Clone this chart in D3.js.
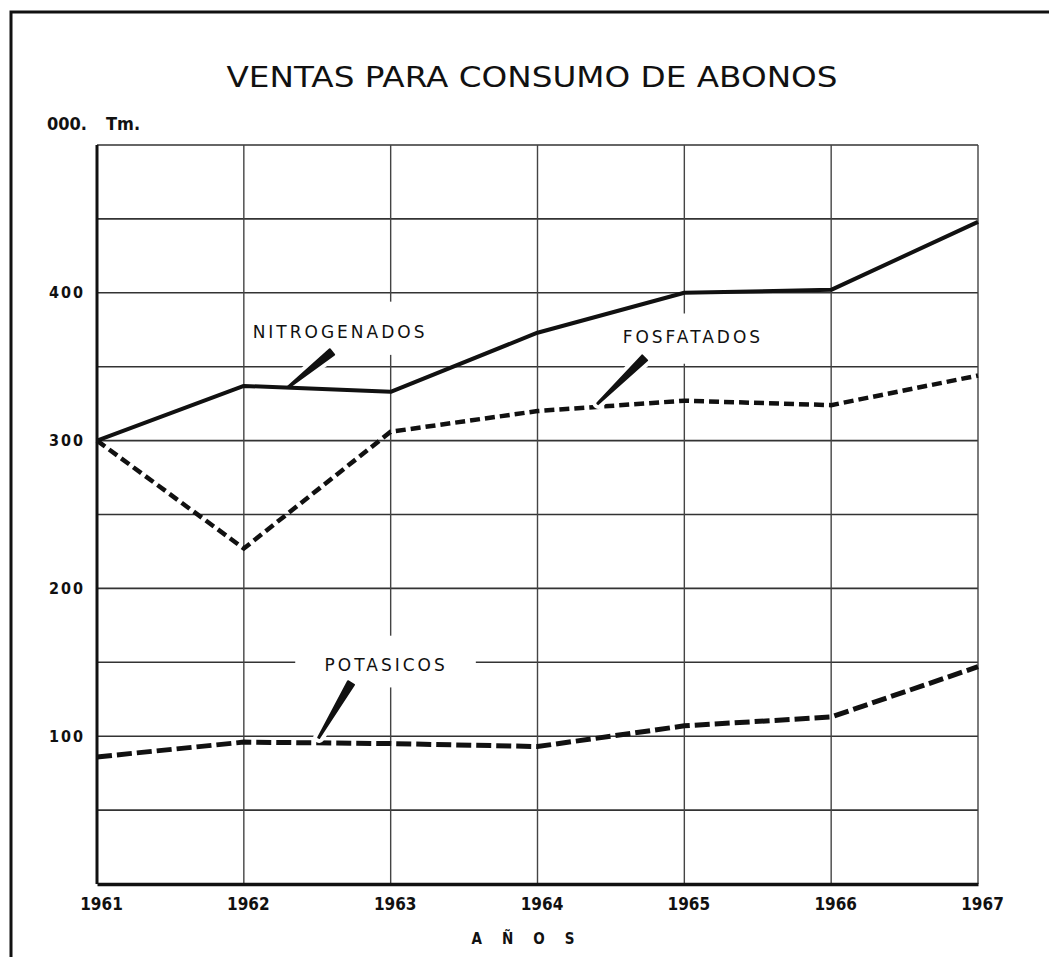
<!DOCTYPE html>
<html>
<head>
<meta charset="utf-8">
<script src="https://cdn.jsdelivr.net/npm/d3@7"></script>
<style>
  body { margin: 0; background: #fff; }
  svg { display: block; }
</style>
</head>
<body>
<div id="chart"></div>
<script>
// data (thousand tonnes)
let years = [1961, 1962, 1963, 1964, 1965, 1966, 1967];
let nitrogenados = [300, 337, 333, 373, 400, 402, 448];
let fosfatados = [300, 227, 306, 320, 327, 324, 344];
let potasicos = [86, 96, 95, 93, 107, 113, 147];
let yTicks = [100, 200, 300, 400];
let yGrid = [50, 100, 150, 200, 250, 300, 350, 400, 450, 500];

function init() {
    let width = 1049;
    let height = 957;

    let svg = d3.select("#chart")
        .append("svg")
        .attr("width", width)
        .attr("height", height);

    let xScale = d3.scaleLinear().domain([1961, 1967]).range([97, 978]);
    let yScale = d3.scaleLinear().domain([0, 500]).range([884, 145]);

    // page frame (top and left edge only)
    svg.append("path")
        .attr("d", "M11,957 L11,12 L1049,12")
        .attr("fill", "none")
        .attr("stroke", "#111")
        .attr("stroke-width", 3);

    // title
    svg.append("text")
        .attr("x", 532)
        .attr("y", 87)
        .attr("text-anchor", "middle")
        .attr("textLength", 611)
        .attr("lengthAdjust", "spacingAndGlyphs")
        .style("font-family", "'DejaVu Sans', sans-serif")
        .style("font-size", "28px")
        .style("fill", "#111")
        .text("VENTAS PARA CONSUMO DE ABONOS");

    // unit label
    let unit = svg.append("text")
        .attr("y", 130)
        .style("font-family", "'DejaVu Sans Condensed', sans-serif")
        .style("font-weight", "bold")
        .style("font-size", "18px")
        .style("fill", "#111");
    unit.append("tspan").attr("x", 47).text("000.");
    unit.append("tspan").attr("x", 106).text("Tm.");

    // grid
    let grid = svg.append("g");
    grid.selectAll(".hgrid")
        .data(yGrid)
        .enter().append("line")
        .attr("x1", xScale(1961))
        .attr("x2", xScale(1967))
        .attr("y1", d => yScale(d))
        .attr("y2", d => yScale(d))
        .attr("stroke", "#333")
        .attr("stroke-width", 1.6);
    grid.selectAll(".vgrid")
        .data(years.slice(1))
        .enter().append("line")
        .attr("x1", d => xScale(d))
        .attr("x2", d => xScale(d))
        .attr("y1", yScale(500))
        .attr("y2", yScale(0))
        .attr("stroke", "#444")
        .attr("stroke-width", 1.4);

    // axes
    let yAxis = svg.append("g")
        .attr("transform", "translate(" + xScale(1961) + ",0)")
        .call(d3.axisLeft(yScale).tickValues(yTicks).tickSize(0).tickPadding(12));
    yAxis.select(".domain")
        .attr("d", "M0," + yScale(500) + "V" + yScale(0))
        .attr("stroke", "#111")
        .attr("stroke-width", 3);
    yAxis.selectAll("text")
        .style("font-family", "'DejaVu Sans Condensed', sans-serif")
        .style("font-weight", "bold")
        .style("font-size", "16px")
        .style("letter-spacing", "2px")
        .style("fill", "#111");

    let xAxis = svg.append("g")
        .attr("transform", "translate(0," + yScale(0) + ")")
        .call(d3.axisBottom(xScale).tickValues(years).tickFormat(d3.format("d")).tickSize(0).tickPadding(14));
    xAxis.select(".domain")
        .attr("stroke", "#111")
        .attr("stroke-width", 3.5);
    xAxis.selectAll("text")
        .attr("dx", "4px")
        .style("font-family", "'DejaVu Sans Condensed', sans-serif")
        .style("font-weight", "bold")
        .style("font-size", "17px")
        .style("fill", "#111");

    svg.append("text")
        .attr("x", 533)
        .attr("y", 944)
        .attr("text-anchor", "middle")
        .style("font-family", "'DejaVu Sans Condensed', sans-serif")
        .style("font-weight", "bold")
        .style("font-size", "15px")
        .style("letter-spacing", "20px")
        .style("fill", "#111")
        .text("AÑOS");

    // series labels with their pointers (positions in data units)
    let labels = [
        { text: "NITROGENADOS", x: 1962.06, y: 369.5, tip: [1962.30, 336], tail: [1962.60, 360], box: [1962.02, 1963.32, 358, 394] },
        { text: "FOSFATADOS", x: 1964.58, y: 366, tip: [1964.41, 325], tail: [1964.73, 356], box: [1964.52, 1965.56, 352, 386] },
        { text: "POTASICOS", x: 1962.55, y: 144, tip: [1962.51, 99], tail: [1962.73, 136], box: [1962.35, 1963.58, 133, 168] }
    ];

    labels.forEach(function (l) {
        svg.append("rect")
            .attr("x", xScale(l.box[0]))
            .attr("y", yScale(l.box[3]))
            .attr("width", xScale(l.box[1]) - xScale(l.box[0]))
            .attr("height", yScale(l.box[2]) - yScale(l.box[3]))
            .attr("fill", "#fff");
        svg.append("text")
            .attr("x", xScale(l.x))
            .attr("y", yScale(l.y))
            .style("font-family", "'DejaVu Sans', sans-serif")
            .style("font-size", "17px")
            .style("letter-spacing", "3px")
            .style("fill", "#111")
            .text(l.text);
    });

    let line = d3.line()
        .x((d, i) => xScale(years[i]))
        .y(d => yScale(d));

    svg.append("path")
        .datum(fosfatados)
        .attr("fill", "none")
        .attr("stroke", "#111")
        .attr("stroke-width", 4.5)
        .attr("stroke-dasharray", "10,5")
        .attr("d", line);

    svg.append("path")
        .datum(potasicos)
        .attr("fill", "none")
        .attr("stroke", "#111")
        .attr("stroke-width", 5)
        .attr("stroke-dasharray", "15,5")
        .attr("d", line);

    // tapered pointers
    labels.forEach(function (l) {
        let x0 = xScale(l.tip[0]), y0 = yScale(l.tip[1]);
        let x1 = xScale(l.tail[0]), y1 = yScale(l.tail[1]);
        let len = Math.hypot(x1 - x0, y1 - y0);
        let px = -(y1 - y0) / len, py = (x1 - x0) / len;
        let w0 = 0.6, w1 = 3.5;
        let pts = [
            [x0 + px * w0, y0 + py * w0],
            [x1 + px * w1, y1 + py * w1],
            [x1 - px * w1, y1 - py * w1],
            [x0 - px * w0, y0 - py * w0]
        ];
        let d = "M" + pts.map(p => p.join(",")).join("L") + "Z";
        svg.append("path")
            .attr("d", d)
            .attr("fill", "#fff")
            .attr("stroke", "#fff")
            .attr("stroke-width", 10)
            .attr("stroke-linejoin", "round");
        svg.append("path")
            .attr("d", d)
            .attr("fill", "#111")
            .attr("stroke", "#111")
            .attr("stroke-width", 2)
            .attr("stroke-linejoin", "round");
    });

    svg.append("path")
        .datum(nitrogenados)
        .attr("fill", "none")
        .attr("stroke", "#111")
        .attr("stroke-width", 4)
        .attr("stroke-linejoin", "round")
        .attr("d", line);
}

window.addEventListener('load', init);
</script>
</body>
</html>
